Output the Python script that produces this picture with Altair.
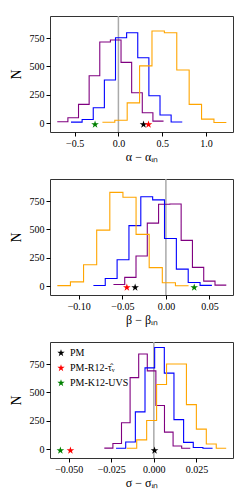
import altair as alt
import pandas as pd

# ---------------- data ----------------
series = ["purple", "blue", "orange"]

# panel 1: alpha - alpha_in
a_lo = [-0.699, -0.542, -0.183]
a_hi = [0.516, 0.730, 1.234]
a_counts = [
    [12, 48, 165, 418, 715, 732, 535, 268, 91, 18],
    [9, 32, 135, 380, 753, 797, 576, 241, 72, 10],
    [8, 26, 179, 505, 812, 797, 468, 165, 35, 6],
]
a_stars = [0.287, 0.344, -0.267]

# panel 2: beta - beta_in
b_lo = [-0.0602, -0.0832, -0.1246]
b_hi = [0.0693, 0.0528, 0.0260]
b_counts = [
    [15, 77, 265, 555, 722, 724, 403, 165, 44, 9],
    [6, 68, 232, 533, 787, 760, 420, 150, 32, 7],
    [5, 38, 188, 494, 826, 783, 456, 163, 30, 4],
]
b_stars = [-0.0353, -0.0448, 0.0325]

# panel 3: sigma - sigma_in
s_lo = [-0.0291, -0.0222, -0.0159]
s_hi = [0.0214, 0.0345, 0.0425]
s_counts = [
    [9, 50, 232, 630, 838, 690, 385, 150, 28, 8],
    [8, 63, 328, 716, 895, 670, 260, 60, 15, 8],
    [8, 82, 252, 569, 750, 750, 392, 176, 45, 8],
]
s_stars = [0.0004, -0.049, -0.0549]

star_names = ["PM", "PM-R12-τ̂ᵥ", "PM-K12-UVS"]
star_colors = ["black", "red", "green"]
line_colors = ["purple", "blue", "orange"]

x_titles = ["α − αᵢₙ", "β − βᵢₙ", "σ − σᵢₙ"]
x_domains = [[-0.782, 1.310], [-0.1330, 0.0770], [-0.0610, 0.0465]]
x_ticks = [[-0.5, 0.0, 0.5, 1.0], [-0.10, -0.05, 0.0, 0.05], [-0.050, -0.025, 0.0, 0.025]]
x_formats = [".1f", ".2f", ".3f"]
y_ticks = [0, 250, 500, 750]
y_domain = [-78, 944]
star_y = -12

STAR = "M0,-1L0.2245,-0.309L0.951,-0.309L0.363,0.118L0.588,0.809L0,0.382L-0.588,0.809L-0.363,0.118L-0.951,-0.309L-0.2245,-0.309Z"
FONT = "Liberation Serif"


def hist_frame(lo, hi, counts):
    rows = []
    for s, l, h, c in zip(series, lo, hi, counts):
        n = len(c)
        w = (h - l) / n
        for i, v in enumerate(c):
            rows.append({"series": s, "x": l + i * w, "y": v, "o": i})
        rows.append({"series": s, "x": h, "y": c[-1], "o": n})
    return pd.DataFrame(rows)


def panel(lo, hi, counts, stars, idx, legend):
    hdf = hist_frame(lo, hi, counts)
    sdf = pd.DataFrame({"name": star_names, "x": stars, "y": [star_y] * 3})
    xs = alt.Scale(domain=x_domains[idx], nice=False, zero=False)
    ys = alt.Scale(domain=y_domain, nice=False, zero=False)
    xax = alt.Axis(values=x_ticks[idx], format=x_formats[idx], title=x_titles[idx],
                   grid=False, tickSize=4, labelPadding=2, titlePadding=3,
                   labelFont=FONT, titleFont=FONT, labelFontSize=10, titleFontSize=12,
                   domain=False, labelColor="black", titleColor="black", tickColor="black",
                   titleFontWeight="normal")
    yax = alt.Axis(values=y_ticks, title="N", grid=False, tickSize=4, labelPadding=2,
                   titlePadding=6, labelFont=FONT, titleFont=FONT, labelFontSize=10,
                   titleFontSize=14, domain=False, labelColor="black", titleColor="black",
                   tickColor="black", titleFontWeight="normal")
    vline = alt.Chart(pd.DataFrame({"x": [0.0]})).mark_rule(
        color="#aaaaaa", strokeWidth=1.5).encode(x=alt.X("x:Q", scale=xs, axis=xax))
    lines = alt.Chart(hdf).mark_line(interpolate="step-after", strokeWidth=1.1).encode(
        x=alt.X("x:Q", scale=xs, axis=xax),
        y=alt.Y("y:Q", scale=ys, axis=yax),
        stroke=alt.Stroke("series:N", scale=alt.Scale(domain=series, range=line_colors), legend=None),
        order="o:Q",
        detail="series:N",
    )
    if legend:
        leg = alt.Legend(title=None, orient="top-left", symbolType=STAR, symbolSize=60,
                         labelFont=FONT, labelFontSize=10, rowPadding=5, offset=4,
                         padding=2, symbolStrokeWidth=0, labelColor="black")
    else:
        leg = None
    pts = alt.Chart(sdf).mark_point(shape=STAR, size=65, filled=True, opacity=1).encode(
        x=alt.X("x:Q", scale=xs, axis=xax),
        y=alt.Y("y:Q", scale=ys, axis=yax),
        fill=alt.Fill("name:N", scale=alt.Scale(domain=star_names, range=star_colors), legend=leg),
    )
    return alt.layer(vline, lines, pts).properties(width=183, height=116)


p1 = panel(a_lo, a_hi, a_counts, a_stars, 0, False)
p2 = panel(b_lo, b_hi, b_counts, b_stars, 1, False)
p3 = panel(s_lo, s_hi, s_counts, s_stars, 2, True)

chart = alt.vconcat(p1, p2, p3, spacing=14).resolve_scale(
    x="independent", y="independent", fill="independent", stroke="independent"
).resolve_legend(fill="independent").properties(
    padding={"left": 0, "top": 6, "right": 5, "bottom": 5}
).configure(font=FONT).configure_view(stroke="#333333", strokeWidth=1).configure_axis(
    labelFont=FONT, titleFont=FONT
)

chart.save("out.html", embed_options={"renderer": "svg", "actions": False})
